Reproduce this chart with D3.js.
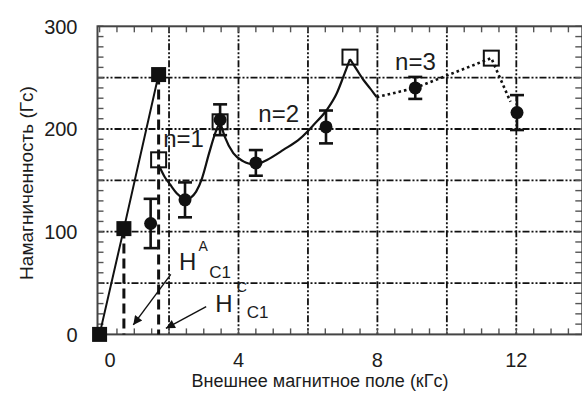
<!DOCTYPE html>
<html>
<head>
<meta charset="utf-8">
<script src="https://cdn.jsdelivr.net/npm/d3@7"></script>
<style>
  body { margin: 0; background: #fff; }
  svg { display: block; }
  text { font-family: "Liberation Sans", Arial, sans-serif; fill: #1c1c1c; }
</style>
</head>
<body>
<svg id="chart" width="582" height="393"></svg>
<script>
// Axis ticks and grid
const xTickValues = [0, 4, 8, 12];
const yTickValues = [0, 100, 200, 300];
const xGridValues = [2, 4, 6, 8, 10, 12];
const yGridValues = [50, 100, 150, 200, 250];

// Initial magnetisation branch (filled squares)
const initFieldX = [0, 0.7, 1.7];
const initMagY = [0, 103, 253];
// Critical fields H_C1 (A and C phases), dashed markers
const critFieldX = [0.7, 1.7];
const critMagY = [103, 253];

// Measured magnetisation with error bars (filled circles)
const measFieldX = [1.47, 2.46, 3.47, 4.5, 6.52, 9.09, 12.02];
const measMagY = [108, 131, 209, 167, 202, 240, 216];
const measErr = [24, 17, 15, 12.5, 16, 10.7, 17];

// Calculated peaks (open squares)
const peakFieldX = [1.70, 3.47, 7.21, 11.28];
const peakMagY = [170, 207, 270, 269];

// Calculated curve branches between the peaks (solid)
const branchN1a = [[1.73, 163], [1.88, 153], [2.03, 146], [2.22, 137.5], [2.46, 131]];
const branchN1b = [[2.46, 131], [2.62, 133], [2.78, 139], [2.95, 152], [3.15, 176], [3.33, 196], [3.47, 207]];
const branchN2a = [[3.47, 207], [3.61, 192], [3.85, 176.5], [4.14, 168.5], [4.5, 165]];
const branchN2b = [[4.5, 165], [4.82, 169.8], [5.29, 179.6], [5.78, 190.9], [6.16, 203.9], [6.54, 218.5], [6.83, 234.8], [7.02, 250.9], [7.21, 268]];
const branchN3a = [[7.21, 268], [7.41, 257.5], [7.6, 247.7], [7.79, 239.6], [7.98, 231]];
// Extrapolated continuation (dotted)
const dottedPath = [[7.98, 231], [9.09, 240], [11.28, 269], [11.83, 226.6]];

// Branch labels
const branchLabels = ["n=1", "n=2", "n=3"];
const branchLabelX = [1.83, 4.57, 8.51];
const branchLabelY = [182.5, 207, 257.5];

// Critical field annotations
const arrowFrom = [[2.05, 58.5], [3.07, 27]];
const arrowTo = [[0.97, 9.2], [1.91, 5.9]];

const svg = d3.select("#chart");
const plot = { left: 97.5, right: 582.3, top: 26.3, bottom: 334.4 };

const x = d3.scaleLinear().domain([-0.06, 13.9]).range([plot.left, plot.right]);
const y = d3.scaleLinear().domain([0, 300]).range([plot.bottom, plot.top]);

// Grid (dash-dot-dot)
const gridDash = "7,2,2,2,2,2";
const grid = svg.append("g").attr("stroke", "#111").attr("stroke-width", 1.8).attr("stroke-dasharray", gridDash);
grid.selectAll(".gx").data(xGridValues).join("line")
  .attr("x1", d => x(d)).attr("x2", d => x(d))
  .attr("y1", plot.top).attr("y2", plot.bottom);
grid.selectAll(".gy").data(yGridValues).join("line")
  .attr("x1", plot.left).attr("x2", plot.right)
  .attr("y1", d => y(d)).attr("y2", d => y(d));

// Frame with inward minor ticks
const frame = svg.append("g");
const tickLen = 6;
const xMinor = d3.range(0, 14, 0.5);
const yMinor = d3.range(0, 301, 10);
const ticks = frame.append("g").attr("stroke", "#555").attr("stroke-width", 1.4);
ticks.selectAll(".tb").data(xMinor).join("line")
  .attr("x1", d => x(d)).attr("x2", d => x(d))
  .attr("y1", plot.bottom).attr("y2", plot.bottom - tickLen);
ticks.selectAll(".tt").data(xMinor).join("line")
  .attr("x1", d => x(d)).attr("x2", d => x(d))
  .attr("y1", plot.top).attr("y2", plot.top + tickLen);
ticks.selectAll(".tl").data(yMinor).join("line")
  .attr("x1", plot.left).attr("x2", plot.left + tickLen)
  .attr("y1", d => y(d)).attr("y2", d => y(d));
ticks.selectAll(".tr").data(yMinor).join("line")
  .attr("x1", plot.right - tickLen - 1).attr("x2", plot.right)
  .attr("y1", d => y(d)).attr("y2", d => y(d));
frame.append("rect")
  .attr("x", plot.left).attr("y", plot.top)
  .attr("width", plot.right - plot.left).attr("height", plot.bottom - plot.top)
  .attr("fill", "none").attr("stroke", "#444").attr("stroke-width", 2);

// Tick labels
svg.append("g").selectAll("text").data(yTickValues).join("text")
  .attr("x", plot.left - 20).attr("y", d => y(d)).attr("dy", "0.36em")
  .attr("text-anchor", "end").attr("font-size", 20).text(d => d);
svg.append("g").selectAll("text").data(xTickValues).join("text")
  .attr("x", d => x(d)).attr("dx", d => d === 0 ? 10.5 : 0).attr("y", 367)
  .attr("text-anchor", "middle").attr("font-size", 20).text(d => d);

// Axis titles
svg.append("text").attr("x", 320).attr("y", 387).attr("text-anchor", "middle")
  .attr("font-size", 18).text("Внешнее магнитное поле (кГс)");
svg.append("text").attr("transform", "translate(33,183) rotate(-90)").attr("text-anchor", "middle")
  .attr("font-size", 19).text("Намагниченность (Гс)");

// Calculated curve branches
const smooth = d3.line().x(d => x(d[0])).y(d => y(d[1])).curve(d3.curveMonotoneX);
[branchN1a, branchN1b, branchN2a, branchN2b, branchN3a].forEach(b => {
  svg.append("path").attr("d", smooth(b)).attr("fill", "none")
    .attr("stroke", "#111").attr("stroke-width", 2.2);
});
svg.append("path").attr("d", d3.line().x(d => x(d[0])).y(d => y(d[1]))(dottedPath))
  .attr("fill", "none").attr("stroke", "#111").attr("stroke-width", 2.6)
  .attr("stroke-dasharray", "2.6,3");

// Initial branch line
svg.append("path")
  .attr("d", d3.line().x((d, i) => x(initFieldX[i])).y((d, i) => y(initMagY[i]))(initFieldX))
  .attr("fill", "none").attr("stroke", "#111").attr("stroke-width", 2);

// Dashed critical field markers
svg.append("g").selectAll("line").data(critFieldX).join("line")
  .attr("x1", d => x(d)).attr("x2", d => x(d))
  .attr("y1", (d, i) => y(critMagY[i])).attr("y2", y(0))
  .attr("stroke", "#111").attr("stroke-width", 3).attr("stroke-dasharray", "10,5");

// Filled squares
const sq = 15;
svg.append("g").selectAll("rect").data(initFieldX).join("rect")
  .attr("x", d => x(d) - sq / 2).attr("y", (d, i) => y(initMagY[i]) - sq / 2)
  .attr("width", sq).attr("height", sq).attr("fill", "#111");

// Open squares
const osq = 15;
svg.append("g").selectAll("rect").data(peakFieldX).join("rect")
  .attr("x", d => x(d) - osq / 2).attr("y", (d, i) => y(peakMagY[i]) - osq / 2)
  .attr("width", osq).attr("height", osq).attr("fill", "none")
  .attr("stroke", "#111").attr("stroke-width", 2);

// Error bars and filled circles
const eb = svg.append("g").attr("stroke", "#111").attr("stroke-width", 2.6);
measFieldX.forEach((fx, i) => {
  const cx = x(fx), lo = y(measMagY[i] - measErr[i]), hi = y(measMagY[i] + measErr[i]);
  eb.append("line").attr("x1", cx).attr("x2", cx).attr("y1", lo).attr("y2", hi);
  eb.append("line").attr("x1", cx - 7).attr("x2", cx + 7).attr("y1", lo).attr("y2", lo);
  eb.append("line").attr("x1", cx - 7).attr("x2", cx + 7).attr("y1", hi).attr("y2", hi);
});
svg.append("g").selectAll("circle").data(measFieldX).join("circle")
  .attr("cx", d => x(d)).attr("cy", (d, i) => y(measMagY[i])).attr("r", 6.5).attr("fill", "#111");

// Branch labels
svg.append("g").selectAll("text").data(branchLabels).join("text")
  .attr("x", (d, i) => x(branchLabelX[i])).attr("y", (d, i) => y(branchLabelY[i]))
  .attr("font-size", 24).text(d => d);

// Arrows
svg.append("defs").append("marker").attr("id", "head")
  .attr("viewBox", "0 0 10 10").attr("refX", 10).attr("refY", 5)
  .attr("markerWidth", 11).attr("markerHeight", 9).attr("markerUnits", "userSpaceOnUse")
  .attr("orient", "auto")
  .append("path").attr("d", "M0,0L10,5L0,10Z").attr("fill", "#111");
svg.append("g").selectAll("line").data(arrowFrom).join("line")
  .attr("x1", d => x(d[0])).attr("y1", d => y(d[1]))
  .attr("x2", (d, i) => x(arrowTo[i][0])).attr("y2", (d, i) => y(arrowTo[i][1]))
  .attr("stroke", "#111").attr("stroke-width", 1.4).attr("marker-end", "url(#head)");

// H_C1 labels
function hLabel(hx, hy, sup, supX, supY, subX, subY) {
  svg.append("text").attr("x", x(hx)).attr("y", y(hy)).attr("font-size", 24).text("H");
  svg.append("text").attr("x", x(supX)).attr("y", y(supY)).attr("font-size", 14).text(sup);
  svg.append("text").attr("x", x(subX)).attr("y", y(subY)).attr("font-size", 17).text("C1");
}
hLabel(2.29, 62.7, "A", 2.85, 81.2, 3.16, 54.9);
hLabel(3.33, 22.1, "C", 3.95, 41.3, 4.24, 15.7);
</script>
</body>
</html>
